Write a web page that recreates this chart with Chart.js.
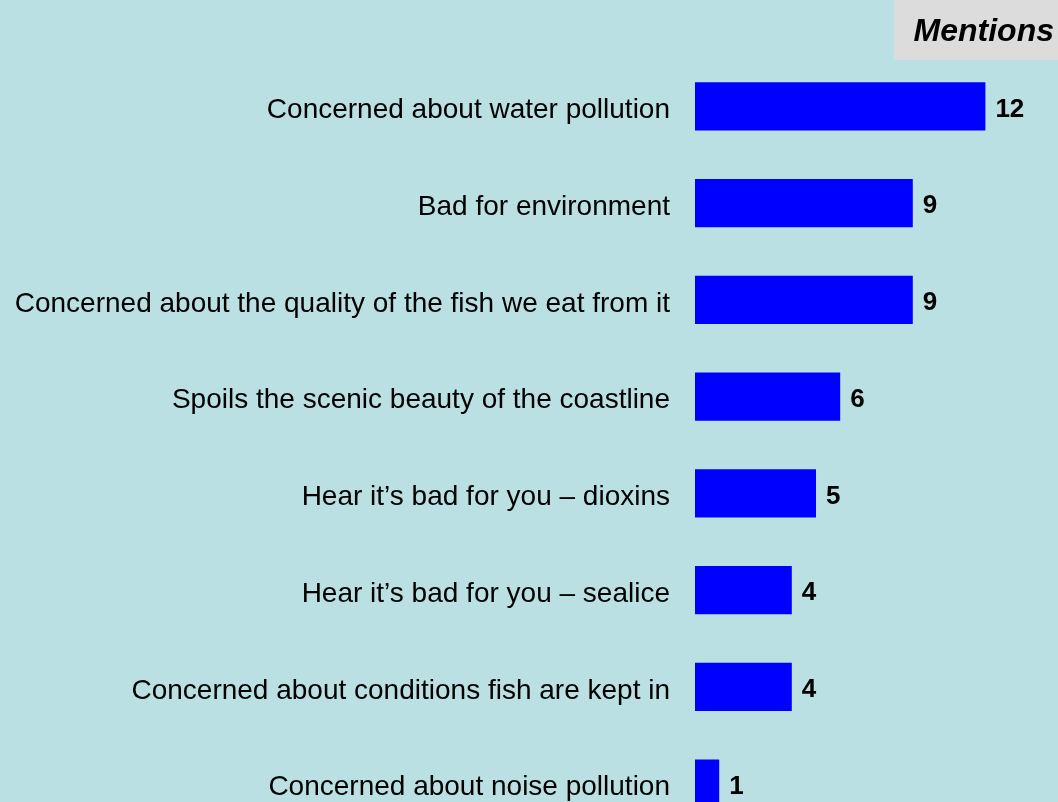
<!DOCTYPE html>
<html>
<head>
<meta charset="utf-8">
<script src="https://cdn.jsdelivr.net/npm/chart.js@4/dist/chart.umd.min.js"></script>
<style>
html,body{margin:0;padding:0;background:#BAE0E3;overflow:hidden;width:1058px;height:802px;}
#c{position:absolute;left:0;top:0;width:1058px;height:880px;}
</style>
</head>
<body>
<canvas id="c" width="1058" height="880"></canvas>
<script>
const categories = [
  "Concerned about water pollution",
  "Bad for environment",
  "Concerned about the quality of the fish we eat from it",
  "Spoils the scenic beauty of the coastline",
  "Hear it\u2019s bad for you \u2013 dioxins",
  "Hear it\u2019s bad for you \u2013 sealice",
  "Concerned about conditions fish are kept in",
  "Concerned about noise pollution"
];
const mentions = [12, 9, 9, 6, 5, 4, 4, 1];
const headerLabel = "Mentions";

const valueLabels = {
  id: 'valueLabels',
  afterDatasetsDraw(chart) {
    const ctx = chart.ctx;
    const meta = chart.getDatasetMeta(0);
    ctx.save();
    ctx.font = 'bold 26px "Liberation Sans", Arial, sans-serif';
    ctx.fillStyle = '#000';
    ctx.textBaseline = 'middle';
    ctx.textAlign = 'left';
    meta.data.forEach((bar, i) => {
      ctx.fillText(String(mentions[i]), bar.x + 10, bar.y + 3);
    });
    ctx.restore();
  },
  afterDraw(chart) {
    const ctx = chart.ctx;
    ctx.save();
    ctx.fillStyle = '#DCDCDC';
    ctx.fillRect(894, 0, 164, 60);
    ctx.font = 'italic bold 32px "Liberation Sans", Arial, sans-serif';
    ctx.fillStyle = '#000';
    ctx.textBaseline = 'middle';
    ctx.textAlign = 'right';
    ctx.fillText(headerLabel, 1054, 32);
    ctx.restore();
  }
};

new Chart(document.getElementById('c'), {
  type: 'bar',
  data: {
    labels: categories,
    datasets: [{
      data: mentions,
      backgroundColor: '#0000FF',
      borderWidth: 0,
      categoryPercentage: 1.0,
      barPercentage: 0.5
    }]
  },
  plugins: [valueLabels],
  options: {
    indexAxis: 'y',
    responsive: false,
    animation: false,
    devicePixelRatio: 1,
    layout: { padding: { top: 58, bottom: 48, left: 0, right: 0 } },
    plugins: { legend: { display: false }, tooltip: { enabled: false } },
    scales: {
      x: {
        min: 0, max: 15,
        display: false,
        grid: { display: false }
      },
      y: {
        grid: { display: false, drawTicks: false },
        border: { display: false },
        ticks: {
          color: '#000',
          padding: 25,
          labelOffset: 4,
          font: { family: '"Liberation Sans", Arial, sans-serif', size: 28 }
        },
        afterFit(scale) { scale.width = 695; }
      }
    }
  }
});
</script>
</body>
</html>
